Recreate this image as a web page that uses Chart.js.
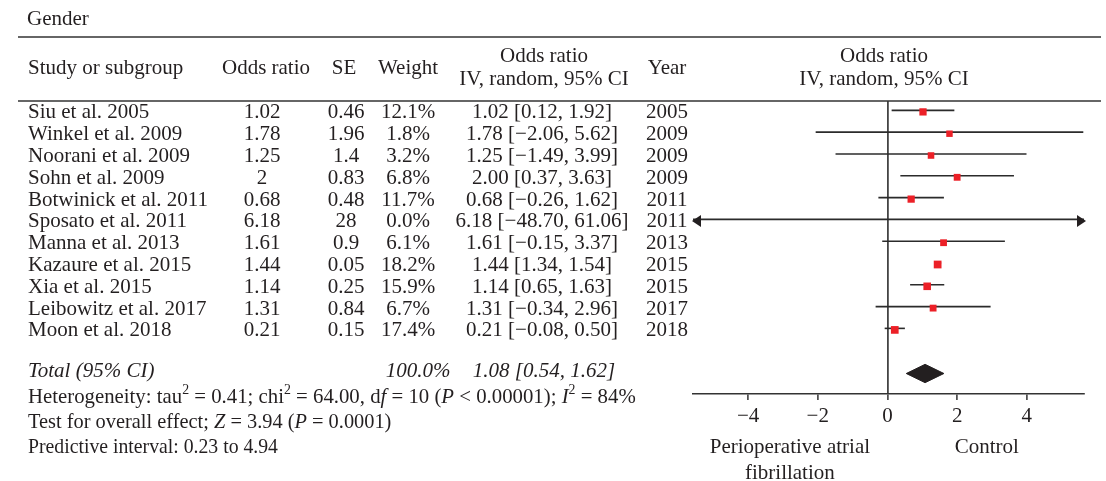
<!DOCTYPE html>
<html>
<head>
<meta charset="utf-8">
<script src="https://cdn.jsdelivr.net/npm/chart.js@4.4.0/dist/chart.umd.min.js"></script>
<style>
  html, body { margin: 0; padding: 0; background: #fff; }
  #wrap { width: 1106px; height: 481px; }
</style>
</head>
<body>
<div id="wrap"><canvas id="forestChart" width="1106" height="481"></canvas></div>
<script>
const studies = ['Siu et al. 2005', 'Winkel et al. 2009', 'Noorani et al. 2009', 'Sohn et al. 2009',
    'Botwinick et al. 2011', 'Sposato et al. 2011', 'Manna et al. 2013', 'Kazaure et al. 2015',
    'Xia et al. 2015', 'Leibowitz et al. 2017', 'Moon et al. 2018'];
const oddsRatios = [1.02, 1.78, 1.25, 2, 0.68, 6.18, 1.61, 1.44, 1.14, 1.31, 0.21];
const standardErrors = [0.46, 1.96, 1.4, 0.83, 0.48, 28, 0.9, 0.05, 0.25, 0.84, 0.15];
const weights = [12.1, 1.8, 3.2, 6.8, 11.7, 0.0, 6.1, 18.2, 15.9, 6.7, 17.4];
const ciLower = [0.12, -2.06, -1.49, 0.37, -0.26, -48.70, -0.15, 1.34, 0.65, -0.34, -0.08];
const ciUpper = [1.92, 5.62, 3.99, 3.63, 1.62, 61.06, 3.37, 1.54, 1.63, 2.96, 0.50];
const years = [2005, 2009, 2009, 2009, 2011, 2011, 2013, 2015, 2015, 2017, 2018];
const totalCI = [0.54, 1.08, 1.62];   // lower, estimate, upper
const xTicks = [-4, -2, 0, 2, 4];

const FONT = "'Liberation Serif', 'Times New Roman', serif";
const FS = 21;
const INK = '#231f20';
const totalRow = studies.length + 1;

Chart.defaults.font.family = FONT;
Chart.defaults.font.size = FS;
Chart.defaults.color = INK;

const minus = v => (v < 0 ? '\u2212' + Math.abs(v).toFixed(2) : v.toFixed(2));
const ciText = (est, lo, hi) => minus(est) + ' [' + minus(lo) + ', ' + minus(hi) + ']';

// draws mixed plain / italic / superscript runs, squeezed a little to fit the original width
function drawRich(ctx, parts, x, y, squeeze) {
    ctx.save();
    ctx.translate(x, y);
    ctx.scale(squeeze || 1, 1);
    let cx = 0;
    parts.forEach(([text, style]) => {
        const sup = style === 's';
        ctx.font = (style === 'i' ? 'italic ' : '') + (sup ? 14 : FS) + 'px ' + FONT;
        ctx.fillText(text, cx, sup ? -7 : 0);
        cx += ctx.measureText(text).width;
    });
    ctx.restore();
}

const tablePlugin = {
    id: 'forestTable',
    afterDraw(chart) {
        const ctx = chart.ctx;
        const y = chart.scales.y;
        const x = chart.scales.x;
        ctx.save();
        ctx.fillStyle = INK;
        ctx.textBaseline = 'middle';

        // rules
        ctx.strokeStyle = '#333';
        ctx.lineWidth = 1.5;
        [37, 101].forEach(ly => {
            ctx.beginPath();
            ctx.moveTo(18, ly);
            ctx.lineTo(1101, ly);
            ctx.stroke();
        });

        ctx.font = FS + 'px ' + FONT;
        ctx.textAlign = 'left';
        ctx.fillText('Gender', 27, 19);
        ctx.fillText('Study or subgroup', 28, 68);
        ctx.textAlign = 'center';
        ctx.fillText('Odds ratio', 266, 68);
        ctx.fillText('SE', 344, 68);
        ctx.fillText('Weight', 408, 68);
        ctx.fillText('Odds ratio', 544, 56);
        ctx.fillText('IV, random, 95% CI', 544, 79);
        ctx.fillText('Year', 667, 68);
        ctx.fillText('Odds ratio', 884, 56);
        ctx.fillText('IV, random, 95% CI', 884, 79);

        studies.forEach((name, i) => {
            const py = y.getPixelForValue(i) + 1;
            ctx.textAlign = 'left';
            ctx.fillText(name, 28, py);
            ctx.textAlign = 'center';
            ctx.fillText(String(oddsRatios[i]), 262, py);
            ctx.fillText(String(standardErrors[i]), 346, py);
            ctx.fillText(weights[i].toFixed(1) + '%', 408, py);
            ctx.fillText(ciText(oddsRatios[i], ciLower[i], ciUpper[i]), 542, py);
            ctx.fillText(String(years[i]), 667, py);
        });

        const ty = y.getPixelForValue(totalRow) - 2;
        ctx.font = 'italic ' + FS + 'px ' + FONT;
        ctx.textAlign = 'left';
        ctx.fillText('Total (95% CI)', 28, ty);
        ctx.textAlign = 'center';
        ctx.fillText('100.0%', 418, ty);
        ctx.fillText(ciText(totalCI[1], totalCI[0], totalCI[2]), 544, ty);

        ctx.textAlign = 'left';
        drawRich(ctx, [['Heterogeneity: tau', 'n'], ['2', 's'], [' = 0.41; chi', 'n'], ['2', 's'],
            [' = 64.00, d', 'n'], ['f', 'i'], [' = 10 (', 'n'], ['P', 'i'], [' < 0.00001); ', 'n'],
            ['I', 'i'], ['2', 's'], [' = 84%', 'n']], 28, 397, 0.99);
        drawRich(ctx, [['Test for overall effect; ', 'n'], ['Z', 'i'], [' = 3.94 (', 'n'], ['P', 'i'],
            [' = 0.0001)', 'n']], 28, 422, 0.97);
        drawRich(ctx, [['Predictive interval: 0.23 to 4.94', 'n']], 28, 447, 0.94);

        // side labels under the axis
        ctx.font = FS + 'px ' + FONT;
        ctx.textAlign = 'center';
        const lx = x.getPixelForValue(-2.8);
        ctx.fillText('Perioperative atrial', lx, 447);
        ctx.fillText('fibrillation', lx, 473);
        ctx.fillText('Control', x.getPixelForValue(2.85), 447);
        ctx.restore();
    }
};

// arrowheads where a confidence interval runs past the axis
const arrowPlugin = {
    id: 'ciArrows',
    afterDatasetsDraw(chart) {
        const ctx = chart.ctx;
        const x = chart.scales.x;
        const y = chart.scales.y;
        ctx.save();
        ctx.fillStyle = '#231f20';
        studies.forEach((s, i) => {
            const py = y.getPixelForValue(i);
            if (ciLower[i] < x.min) {
                ctx.beginPath();
                ctx.moveTo(x.left - 1, py);
                ctx.lineTo(x.left + 8, py - 6);
                ctx.lineTo(x.left + 8, py + 6);
                ctx.closePath();
                ctx.fill();
            }
            if (ciUpper[i] > x.max) {
                ctx.beginPath();
                ctx.moveTo(x.right + 2, py);
                ctx.lineTo(x.right - 7, py - 6);
                ctx.lineTo(x.right - 7, py + 6);
                ctx.closePath();
                ctx.fill();
            }
        });
        ctx.restore();
    }
};

const ciDatasets = studies.map((s, i) => ({
    label: s,
    data: [{ x: ciLower[i], y: i - 0.07 }, { x: ciUpper[i], y: i - 0.07 }],
    borderColor: '#2b2b2b',
    borderWidth: 1.6,
    pointRadius: 0,
    order: 2
}));

const squareDataset = {
    type: 'scatter',
    label: 'Odds ratio',
    data: oddsRatios.map((v, i) => ({ x: v, y: i })),
    pointStyle: 'rect',
    pointRadius: weights.map(w => (6.3 + 0.08 * w) / 1.414),
    backgroundColor: '#ec2027',
    borderWidth: 0,
    order: 0
};

const diamondDataset = {
    label: 'Total',
    data: [
        { x: totalCI[0], y: totalRow },
        { x: totalCI[1], y: totalRow - 0.42 },
        { x: totalCI[2], y: totalRow },
        { x: totalCI[1], y: totalRow + 0.42 },
        { x: totalCI[0], y: totalRow }
    ],
    borderColor: '#231f20',
    backgroundColor: '#231f20',
    borderWidth: 1,
    pointRadius: 0,
    fill: 'shape',
    order: 1
};

const ctx = document.getElementById('forestChart').getContext('2d');
new Chart(ctx, {
    type: 'line',
    data: { datasets: [squareDataset, diamondDataset, ...ciDatasets] },
    options: {
        responsive: false,
        animation: false,
        layout: { padding: { left: 693, right: 22, top: 101, bottom: 0 } },
        plugins: {
            legend: { display: false },
            tooltip: { enabled: false }
        },
        scales: {
            x: {
                type: 'linear',
                min: -5.58,
                max: 5.64,
                afterBuildTicks: scale => { scale.ticks = xTicks.map(v => ({ value: v })); },
                afterFit: scale => { scale.height = 87; },
                grid: {
                    color: c => (c.tick && c.tick.value === 0 ? '#444' : 'rgba(0,0,0,0)'),
                    lineWidth: 1.8,
                    tickLength: 6,
                    tickColor: '#333',
                    tickWidth: 1.5
                },
                border: { display: true, color: '#333', width: 1.5 },
                ticks: {
                    padding: 4,
                    color: INK,
                    font: { size: FS },
                    callback: v => (v < 0 ? '\u2212' + Math.abs(v) : String(v))
                }
            },
            y: { type: 'linear', display: false, reverse: true, min: -0.5, max: 12.94 }
        }
    },
    plugins: [tablePlugin, arrowPlugin]
});
</script>
</body>
</html>
